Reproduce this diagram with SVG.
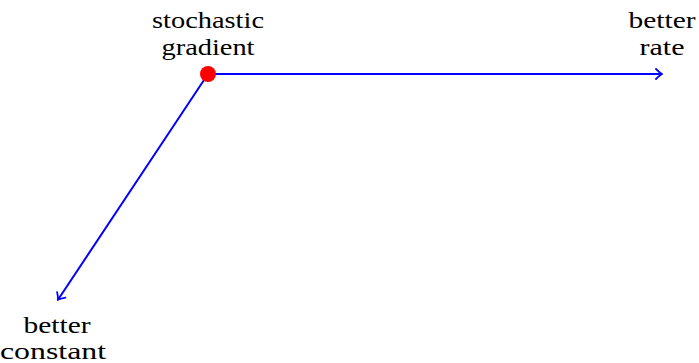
<svg xmlns="http://www.w3.org/2000/svg" width="699" height="363" viewBox="0 0 699 363">
<style>
.c{stroke:#0000ff;stroke-width:2;fill:none}
</style>
<defs>
<marker id="ar" viewBox="-6 -6 8 12" markerWidth="8" markerHeight="12" refX="0" refY="0" orient="auto" markerUnits="userSpaceOnUse">
<path d="M-5,-5 Q-1,-1 1,0 Q-1,1 -5,5" fill="none" stroke="#0000ff" stroke-width="1.8" stroke-linecap="round"/>
</marker>
</defs>
<g id="connectors">
<line class="c" x1="208" y1="74" x2="661" y2="74" marker-end="url(#ar)"/>
<line class="c" x1="208" y1="74" x2="58.5" y2="299" marker-end="url(#ar)"/>
</g>
<g font-family="Liberation Serif, serif" font-size="23" fill="#000" text-anchor="middle">
<g id="sg">
<circle cx="208" cy="74" r="8" fill="#ff0000"/>
<text x="208" y="28" textLength="112" lengthAdjust="spacingAndGlyphs">stochastic</text>
<text x="208" y="55" textLength="93" lengthAdjust="spacingAndGlyphs">gradient</text>
</g>
<g id="rate">
<text x="662" y="28" textLength="67" lengthAdjust="spacingAndGlyphs">better</text>
<text x="662" y="55" textLength="45" lengthAdjust="spacingAndGlyphs">rate</text>
</g>
<g id="constant">
<text x="57" y="333" textLength="67" lengthAdjust="spacingAndGlyphs">better</text>
<text x="53" y="359" textLength="106" lengthAdjust="spacingAndGlyphs">constant</text>
</g>
</g>
</svg>
